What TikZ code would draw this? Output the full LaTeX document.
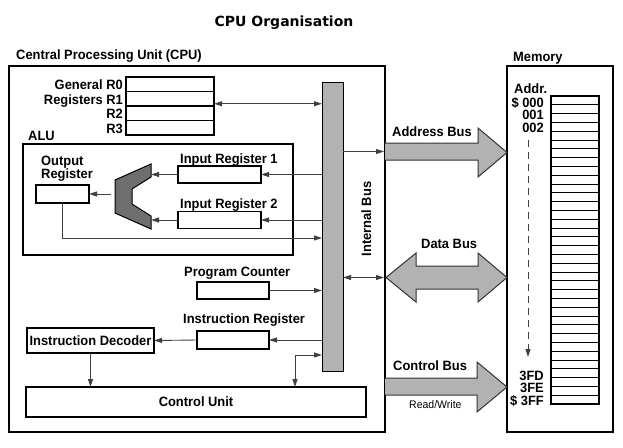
\documentclass[tikz,border=0pt]{standalone}
\usepackage{fontspec}
\usepackage{tikz}
\usetikzlibrary{arrows.meta, positioning}

\setmainfont{Liberation Sans}
\newfontfamily\narrowfont[FakeStretch=0.955]{Liberation Sans}
\newfontfamily\titlefont{DejaVu Sans}

\tikzset{
    lbl/.style={font=\narrowfont\bfseries\fontsize{13.5}{11}\selectfont, inner sep=0pt},
    box/.style={draw, line width=1.5pt, inner sep=0pt, outer sep=0pt},
    link/.style={draw=black!75, line width=0.9pt, -{Triangle[length=8pt,width=5pt]}},
    twolink/.style={link, {Triangle[length=8pt,width=5pt]}-{Triangle[length=8pt,width=5pt]}},
    busarrow/.style={draw=black!80, line width=1pt, fill=gray!60},
}

\begin{document}
\begin{tikzpicture}[x=1pt, y=-1pt]
    \useasboundingbox (0,0) rectangle (623,447);
    \node[font=\titlefont\bfseries\fontsize{14}{14}\selectfont, anchor=base] (title) at (284,27) {CPU Organisation};

    % CPU and memory frames
    \node[box, minimum width=376pt, minimum height=366pt] (cpu) at (197,249) {};
    \node[lbl, anchor=base west] (cpulbl) at (16,59) {Central Processing Unit (CPU)};
    \node[box, minimum width=106pt, minimum height=366pt] (mem) at (560,249) {};
    \node[lbl, anchor=base west] (memlbl) at (513,61) {Memory};

    % Internal bus
    \node[box, line width=1pt, fill=gray!60, minimum width=21pt, minimum height=289pt] (ibus) at (332.5,226.5) {};
    \node[lbl, rotate=90, anchor=base] (ibuslbl) at (371,219) {Internal Bus};

    % General registers
    \foreach \i in {0,...,3}
        \node[box, minimum width=88pt, minimum height=14.5pt] (r\i) at (170,84.25+14.5*\i) {};
    \node[lbl, anchor=base east] (g0) at (123,89.5) {General R0};
    \node[lbl, anchor=base east] (g1) at (123,104) {Registers R1};
    \node[lbl, anchor=base east] (g2) at (123,118.5) {R2};
    \node[lbl, anchor=base east] (g3) at (123,133) {R3};
    \coordinate (regport) at ([yshift=-5pt]r1.east);
    \draw[twolink] (regport) -- (regport -| ibus.west);

    % ALU
    \node[box, minimum width=270pt, minimum height=111pt] (alu) at (158,199.5) {};
    \node[lbl, anchor=base west] (alulbl) at (28,140) {ALU};
    \node[lbl, align=left, anchor=north west] (outlbl) at (41,155.5) {Output\\Register};
    \node[box, minimum width=53pt, minimum height=18pt] (outreg) at (62.5,194) {};
    \filldraw[fill=black!57, draw=black, line width=1pt] (151,164) -- (151,177) -- (132,189) -- (132,204)
        -- (151,216) -- (151,229) -- (115,213) -- (115,180) -- cycle;
    \coordinate (aluin) at (151,170);
    \coordinate (aluout) at (111,194);
    \node[box, minimum width=83pt, minimum height=17pt] (in1) at (219.5,174.5) {};
    \node[lbl, anchor=base west] (in1lbl) at (180,163) {Input Register 1};
    \node[box, minimum width=83pt, minimum height=17pt] (in2) at (219.5,220) {};
    \node[lbl, anchor=base west] (in2lbl) at (180,208) {Input Register 2};
    \draw[link] (in1.east -| ibus.west) -- (in1.east);
    \draw[link] (in2.east -| ibus.west) -- (in2.east);
    \draw[link] (in1.west) -- (in1.west -| aluin);
    \draw[link] (in2.west) -- (in2.west -| aluin);
    \draw[link] (aluout) -- (aluout -| outreg.east);
    \coordinate (aluret) at (322,238);
    \draw[link] (outreg.south) |- (aluret);

    % Program counter, instruction register, decoder, control unit
    \node[box, minimum width=72pt, minimum height=17pt] (pc) at (233,290.5) {};
    \node[lbl, anchor=base west] (pclbl) at (184,276) {Program Counter};
    \node[box, minimum width=72pt, minimum height=18pt] (ir) at (233,340) {};
    \node[lbl, anchor=base west] (irlbl) at (183,323) {Instruction Register};
    \node[box, lbl, line width=1.5pt, minimum width=127pt, minimum height=25pt] (dec) at (90.5,340.5) {Instruction Decoder};
    \node[box, lbl, line width=1.5pt, minimum width=340pt, minimum height=30pt] (cu) at (196,402) {Control Unit};
    \draw[link] (pc.east) -- (pc.east -| ibus.west);
    \draw[link] (ir.east -| ibus.west) -- (ir.east);
    \draw[link] (ir.west) -- (dec.east);
    \draw[link] (dec.south) -- (dec.south |- cu.north);
    \coordinate (ctl) at (295,355);
    \draw[twolink] (ctl |- cu.north) |- (ctl -| ibus.west);

    % System buses
    \coordinate (abus) at (384,151.5);
    \coordinate (dbus) at (384,277.5);
    \draw[link] (abus -| ibus.east) -- (abus);
    \draw[twolink] (dbus -| ibus.east) -- (dbus);
    \filldraw[busarrow] (385,143) -- (478,143) -- (478,128) -- (507,152.5) -- (478,177) -- (478,160) -- (385,160);
    \filldraw[busarrow] (386,277.5) -- (416,253) -- (416,266) -- (478,266) -- (478,253) -- (507,277.5)
        -- (478,302) -- (478,289) -- (416,289) -- (416,302) -- cycle;
    \filldraw[busarrow] (385,378) -- (477,378) -- (477,362) -- (507,387) -- (477,412) -- (477,395) -- (385,395);
    \node[lbl, anchor=base west] (ablbl) at (392,136) {Address Bus};
    \node[lbl, anchor=base west] (dblbl) at (421,248) {Data Bus};
    \node[lbl, anchor=base west] (cblbl) at (393,370) {Control Bus};
    \node[font=\narrowfont\fontsize{11}{11}\selectfont, inner sep=0pt, anchor=base west] (rwlbl) at (409,408) {Read/Write};

    % Memory cells
    \draw[line width=1.3pt] (551,96) rectangle (599,404);
    \foreach \k in {1,...,34}
        \draw[line width=1pt] (551,96+8.8*\k) -- (600,96+8.8*\k);
    \node[lbl, anchor=base west] (addrlbl) at (514,93) {Addr.};
    \node[lbl, anchor=base east] (a0) at (544,107) {\$ 000};
    \node[lbl, anchor=base east] (a1) at (544,119.5) {001};
    \node[lbl, anchor=base east] (a2) at (544,132) {002};
    \node[lbl, anchor=base east] (a3fd) at (544,380) {3FD};
    \node[lbl, anchor=base east] (a3fe) at (544,392.5) {3FE};
    \node[lbl, anchor=base east] (a3ff) at (544,405) {\$ 3FF};
    \coordinate (firstcell) at (528,140);
    \coordinate (lastcell) at (528,357);
    \draw[link, dash pattern=on 7pt off 5pt] (firstcell) -- (lastcell);
\end{tikzpicture}
\end{document}
